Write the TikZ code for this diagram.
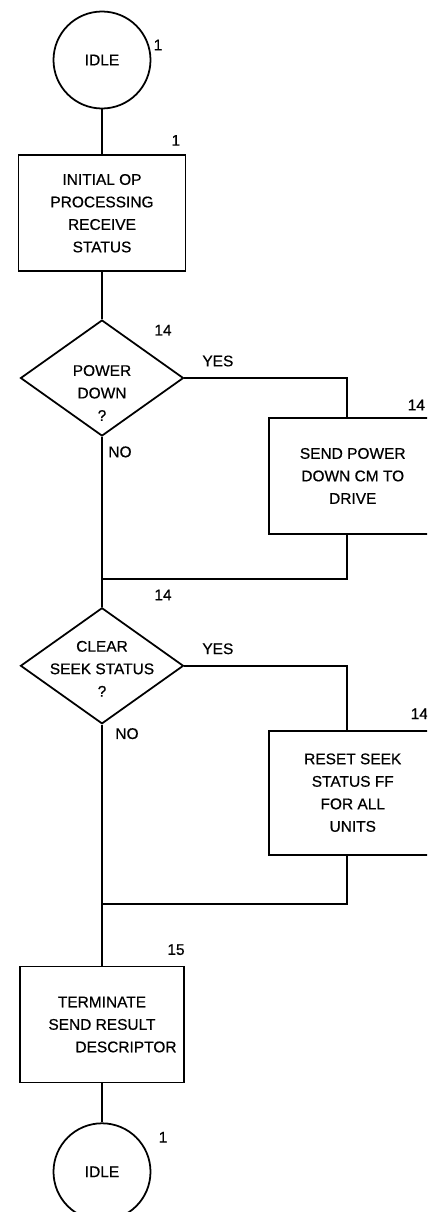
\documentclass[tikz,border=0pt]{standalone}
\usepackage{fontspec}
\setmainfont{Liberation Sans}[FakeBold=0.6]
\usetikzlibrary{positioning,shapes.geometric}

\begin{document}
\begin{tikzpicture}[
    font=\fontsize{8.8}{12.8}\selectfont,
    every node/.style={align=center},
    circ/.style={draw, circle, line width=1pt, minimum size=1.94cm, inner sep=0pt},
    box/.style={draw, line width=1pt, minimum height=2.32cm, minimum width=3.34cm,
                inner sep=2pt},
    test/.style={draw, diamond, line width=1pt, minimum width=3.26cm,
                 minimum height=2.32cm, inner sep=0pt},
    num/.style={inner sep=0pt},
    flow/.style={line width=1pt},
]
\useasboundingbox (0,0) rectangle (8.54,-24.24);
\clip (0,0) rectangle (8.54,-24.24);

% Main column
\node[circ] (idle) at (2.04,-1.2) {IDLE};
\node[box, below=0.9cm of idle] (init) {INITIAL OP\\PROCESSING\\RECEIVE\\STATUS};
\node[test, below=0.94cm of init,
      label={[yshift=-0.3cm]center:{POWER\\DOWN\\?}}] (pwrq) {};
\coordinate[below=2.84cm of pwrq.south] (join1);
\node[test, below=3.4cm of pwrq,
      label={[yshift=-0.06cm]center:{CLEAR\\SEEK STATUS\\?}}] (seekq) {};
\coordinate[below=3.58cm of seekq.south] (join2);
\node[box, minimum width=3.28cm, below=4.82cm of seekq] (fin)
     {TERMINATE\\SEND RESULT\\\hspace*{0.96cm}DESCRIPTOR};
\node[circ, below=0.78cm of fin] (idleb) {IDLE};

% Side actions (YES branches)
\node[box, below right=0.78cm and 1.68cm of pwrq.east] (pwr) {SEND POWER\\DOWN CM TO\\DRIVE};
\node[box, minimum height=2.48cm, below right=1.28cm and 1.68cm of seekq.east] (seek)
     {RESET SEEK\\STATUS FF\\FOR ALL\\UNITS};

% Page numbers and branch labels
\node[num] (n1)  at ([shift={(1.12,0.3)}]idle.center) {1};
\node[num] (n2)  at ([shift={(-0.21,0.28)}]init.north east) {1};
\node[num] (n3)  at ([shift={(1.22,-0.22)}]pwrq.north) {14};
\node[num] (y1)  at ([shift={(0.67,0.34)}]pwrq.east) {YES};
\node[num] (n4)  at ([shift={(2.96,0.24)}]pwr.north west) {14};
\node[num] (no1) at ([shift={(0.36,-0.3)}]pwrq.south) {NO};
\node[num] (n5)  at ([shift={(1.22,0.24)}]seekq.north) {14};
\node[num] (y2)  at ([shift={(0.67,0.34)}]seekq.east) {YES};
\node[num] (n6)  at ([shift={(3.02,0.32)}]seek.north west) {14};
\node[num] (no2) at ([shift={(0.5,-0.18)}]seekq.south) {NO};
\node[num] (n7)  at ([shift={(1.48,0.32)}]fin.north) {15};
\node[num] (n8)  at ([shift={(1.22,0.69)}]idleb.center) {1};

% Lines
\draw[flow] (idle) -- (init);
\draw[flow] (init) -- (pwrq);
\draw[flow] (pwrq) -- (seekq);
\draw[flow] (seekq) -- (fin);
\draw[flow] (fin) -- (idleb);
\draw[flow] (pwrq.east) -| ([xshift=-0.12cm]pwr.north);
\draw[flow] ([xshift=-0.12cm]pwr.south) |- (join1);
\draw[flow] (seekq.east) -| ([xshift=-0.12cm]seek.north);
\draw[flow] ([xshift=-0.12cm]seek.south) |- (join2);

\end{tikzpicture}
\end{document}
